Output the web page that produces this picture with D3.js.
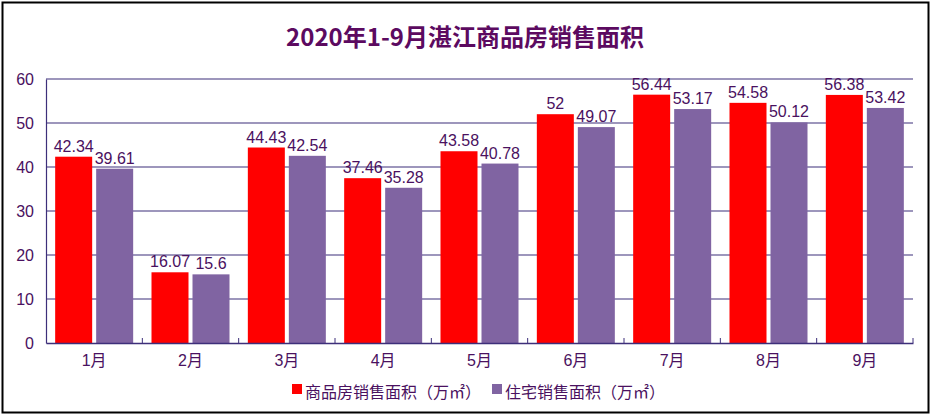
<!DOCTYPE html>
<html><head><meta charset="utf-8">
<script src="https://cdn.jsdelivr.net/npm/d3@7"></script>
<style>body{margin:0;background:#fff}svg{display:block}</style>
</head><body>
<svg id="c" width="931" height="416"></svg>
<script>
const title = "2020年1-9月湛江商品房销售面积";
const categories = ["1月","2月","3月","4月","5月","6月","7月","8月","9月"];
const seriesNames = ["商品房销售面积（万㎡）","住宅销售面积（万㎡）"];
const commercial = [42.34,16.07,44.43,37.46,43.58,52,56.44,54.58,56.38];
const residential = [39.61,15.6,42.54,35.28,40.78,49.07,53.17,50.12,53.42];
const yTicks = [0,10,20,30,40,50,60];
const colors = ["#ff0000","#8064a2"];

const svg = d3.select("#c");
const font = "'Liberation Sans','Noto Sans CJK SC',sans-serif";
const txtColor = "#4a1160";
const m = {l:46, r:913, t:79, b:343};

svg.append("rect").attr("x",2.5).attr("y",2.5).attr("width",926).attr("height",410)
  .attr("fill","#fff").attr("stroke","#000").attr("stroke-width",2);

svg.append("text").attr("x",465).attr("y",46).attr("text-anchor","middle")
  .attr("font-family","'Noto Sans CJK SC',sans-serif").attr("font-weight","bold")
  .attr("font-size",24).attr("fill","#5c0a60").text(title);

const x = d3.scaleBand().domain(categories).range([m.l,m.r]).paddingInner(0).paddingOuter(0);
const y = d3.scaleLinear().domain([0,60]).range([m.b,m.t]);

// gridlines
svg.append("g").selectAll("line").data(yTicks.filter(d=>d>0)).join("line")
  .attr("x1",m.l).attr("x2",m.r).attr("y1",d=>y(d)).attr("y2",d=>y(d))
  .attr("stroke","#3d2f7a").attr("stroke-width",1.2);

// y axis
const ya = svg.append("g").attr("transform",`translate(${m.l},0)`)
  .call(d3.axisLeft(y).tickValues(yTicks).tickSize(0).tickPadding(12));
ya.select(".domain").attr("stroke","#3d2f7a").attr("stroke-width",1.2);
ya.selectAll("text").attr("font-family",font).attr("font-size",16).attr("fill",txtColor);

const data = categories.map((c,i)=>({c, v:[commercial[i],residential[i]]}));
const barW = 37, gap = 4;
const groups = svg.append("g").selectAll("g").data(data).join("g")
  .attr("transform",d=>`translate(${x(d.c)+x.bandwidth()/2},0)`);
[0,1].forEach(s=>{
  const off = s===0 ? -gap/2-barW : gap/2;
  groups.append("rect").attr("x",off).attr("width",barW)
    .attr("y",d=>y(d.v[s])).attr("height",d=>y(0)-y(d.v[s])).attr("fill",colors[s]);
  groups.append("text").attr("x",off+barW/2).attr("y",d=>y(d.v[s])-5)
    .attr("text-anchor","middle").attr("font-family",font).attr("font-size",16)
    .attr("fill",txtColor).text(d=>d.v[s]);
});

// x axis
const xa = svg.append("g").attr("transform",`translate(0,${m.b})`)
  .call(d3.axisBottom(x).tickSize(0).tickPadding(12));
xa.select(".domain").attr("stroke","#3d2f7a").attr("stroke-width",1.5);
xa.selectAll("text").attr("font-family",font).attr("font-size",16).attr("fill",txtColor);
svg.append("g").selectAll("line").data(categories.slice(1).concat(["__end"])).join("line")
  .attr("x1",(d,i)=>m.l+x.bandwidth()*(i+1)).attr("x2",(d,i)=>m.l+x.bandwidth()*(i+1))
  .attr("y1",m.b-5).attr("y2",m.b).attr("stroke","#3d2f7a").attr("stroke-width",1);

// legend
const leg = svg.append("g");
const legX = [292, 492];
seriesNames.forEach((n,i)=>{
  leg.append("rect").attr("x",legX[i]).attr("y",384).attr("width",10).attr("height",10).attr("fill",colors[i]);
  leg.append("text").attr("x",legX[i]+13).attr("y",398).attr("font-family",font)
    .attr("font-size",16).attr("fill",txtColor).text(n);
});
</script>
</body></html>
